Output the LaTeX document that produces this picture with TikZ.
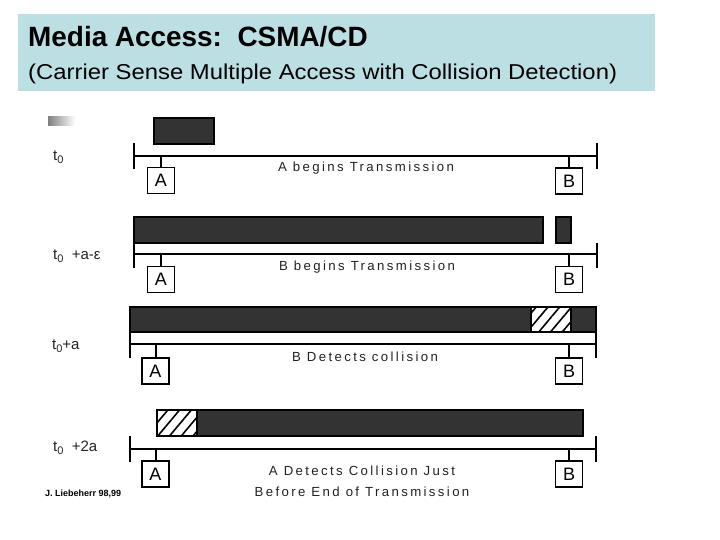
\documentclass[tikz,border=0pt]{standalone}
\usepackage{fontspec}
\setmainfont{Liberation Sans}
\newfontfamily\spaced[LetterSpace=18]{Liberation Sans}
\newfontfamily\subfont[FakeStretch=1.11]{Liberation Sans}
\usetikzlibrary{patterns.meta}
\definecolor{titlebg}{HTML}{BCDFE3}
\definecolor{barfill}{HTML}{333333}
\definecolor{txt}{HTML}{222222}
\tikzset{
  bar/.style={draw=black, line width=1.6pt, fill=barfill},
  hatch/.style={draw=black, line width=1.6pt, preaction={fill=white},
    pattern={Lines[angle=50,distance=9pt,line width=1.6pt]}},
  bus/.style={line width=2.4pt, black},
  tick/.style={line width=2.4pt, black},
  station/.style={draw=black, line width=1.7pt, fill=white, minimum width=27pt,
    minimum height=26pt, inner sep=0pt, font=\fontsize{18}{18}\selectfont},
  stub/.style={line width=2pt, black},
  caption/.style={font=\spaced\fontsize{13.2}{21}\selectfont, text=txt, align=center},
  tlabel/.style={font=\fontsize{15}{15}\selectfont, text=txt, anchor=west, inner sep=0pt}
}
\newcommand{\lowsub}[1]{\raisebox{-0.45ex}{\fontsize{11}{11}\selectfont #1}}
\begin{document}
\begin{tikzpicture}[x=1pt,y=-1pt]
\useasboundingbox (0,0) rectangle (720,540);
% title
\fill[titlebg] (18,14) rectangle (655,91);
\node[anchor=base west, inner sep=0pt, font=\bfseries\fontsize{27.9}{28}\selectfont] (title) at (28,47) {Media Access:~~CSMA/CD};
\node[anchor=base west, inner sep=0pt, font=\subfont\fontsize{21.5}{22}\selectfont] (subtitle) at (28,80) {(Carrier Sense Multiple Access with Collision Detection)};
% gradient mark
\shade[left color=black!50, right color=white] (48,117) rectangle (75,126);

% ---------- row 1
\node[tlabel] (t1) at (53,157) {t\lowsub{0}};
\draw[bar] (154,118) rectangle (214,144);
\coordinate (L1) at (134,156); \coordinate (R1) at (597,156);
\draw[bus] (L1) -- (R1);
\draw[tick] (134,143) -- (134,169);
\draw[tick] (597,143) -- (597,169);
\node[station] (A1) at (161,180.5) {A};
\node[station] (B1) at (569,181) {B};
\draw[stub] (A1.north) -- (A1.north |- L1);
\draw[stub] (B1.north) -- (B1.north |- R1);
\node[caption] (c1) at (366,168) {A begins Transmission};

% ---------- row 2
\node[tlabel] (t2) at (53,256) {t\lowsub{0}~~+a-ε};
\draw[bar] (134,217) rectangle (543,243);
\draw[bar] (556,217) rectangle (571,243);
\coordinate (L2) at (134,254); \coordinate (R2) at (597,254);
\draw[bus] (L2) -- (R2);
\draw[tick] (134,243) -- (134,268);
\draw[tick] (597,243) -- (597,268);
\node[station] (A2) at (161,279.5) {A};
\node[station] (B2) at (569,279.5) {B};
\draw[stub] (A2.north) -- (A2.north |- L2);
\draw[stub] (B2.north) -- (B2.north |- R2);
\node[caption] (c2) at (367,267) {B begins Transmission};

% ---------- row 3
\node[tlabel] (t3) at (52,346) {t\lowsub{0}+a};
\draw[bar] (130,307) rectangle (596,332);
\draw[hatch] (531,307) rectangle (571,332);
\coordinate (L3) at (130,344); \coordinate (R3) at (596,344);
\draw[bus] (L3) -- (R3);
\draw[tick] (130,332) -- (130,358);
\draw[tick] (596,332) -- (596,358);
\node[station] (A3) at (155.5,371) {A};
\node[station] (B3) at (569,371) {B};
\draw[stub] (A3.north) -- (A3.north |- L3);
\draw[stub] (B3.north) -- (B3.north |- R3);
\node[caption] (c3) at (365,357) {B Detects collision};

% ---------- row 4
\node[tlabel] (t4) at (53,448) {t\lowsub{0}~~+2a};
\draw[bar] (157,410) rectangle (583,436);
\draw[hatch] (157,410) rectangle (197,436);
\coordinate (L4) at (130,449); \coordinate (R4) at (596,449);
\draw[bus] (L4) -- (R4);
\draw[tick] (130,436) -- (130,462);
\draw[tick] (596,436) -- (596,462);
\node[station] (A4) at (155.5,474) {A};
\node[station] (B4) at (569,474) {B};
\draw[stub] (A4.north) -- (A4.north |- L4);
\draw[stub] (B4.north) -- (B4.north |- R4);
\node[caption] (c4) at (362,481.5) {A Detects Collision Just\\Before End of Transmission};

% footer
\node[anchor=west, inner sep=0pt, font=\bfseries\fontsize{9}{9}\selectfont] (foot) at (45,494) {J. Liebeherr 98,99};
\end{tikzpicture}
\end{document}
